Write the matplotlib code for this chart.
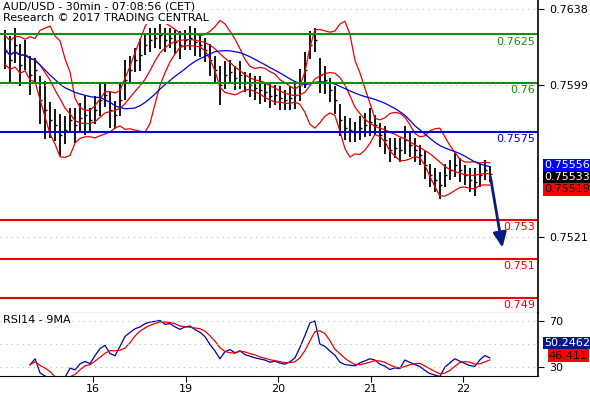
import numpy as np
import pandas as pd
import matplotlib
matplotlib.use("Agg")
import matplotlib.pyplot as plt

closes_pips = [7617.0,7611.8,7619.5,7609.3,7614.4,7604.1,7606.7,7591.3,7586.2,7581.1,
 7578.5,7573.4,7575.9,7581.1,7578.5,7582.1,7583.6,7581.1,7586.2,7591.3,
 7593.9,7586.2,7583.6,7591.3,7601.6,7606.7,7611.8,7614.4,7619.5,7622.1,
 7623.1,7624.7,7622.1,7623.1,7621.1,7619.5,7622.1,7623.1,7621.1,7619.5,
 7617.0,7611.8,7606.7,7599.0,7604.1,7605.7,7602.6,7604.1,7600.5,7599.0,
 7597.5,7596.4,7595.4,7593.4,7593.9,7592.3,7591.3,7592.3,7593.9,7599.0,
 7606.7,7619.5,7622.1,7604.1,7601.6,7596.4,7591.3,7581.1,7577.0,7575.9,
 7574.9,7577.0,7578.5,7580.0,7578.5,7573.4,7570.8,7565.7,7566.7,7565.7,
 7570.8,7568.2,7565.7,7563.1,7558.0,7552.8,7550.3,7547.7,7552.8,7555.4,
 7558.0,7555.4,7552.8,7550.3,7549.3,7552.8,7555.4,7553.3]
spans_pips = [20,25,18,22,15,20,12,25,30,18,16,22,14,12,18,15,20,12,14,16,
 12,18,14,16,20,14,12,16,10,12,10,14,12,10,12,14,10,12,14,12,
 12,16,14,20,14,12,12,14,10,12,12,14,10,12,10,12,10,12,14,16,
 18,14,12,18,14,12,14,16,12,12,10,12,12,14,10,12,14,12,10,12,
 14,12,12,10,14,12,12,14,12,10,12,12,10,12,14,12,10,8]
day_ticks = [16, 17, 18, 19, 20]
day_labels = ["16", "19", "20", "21", "22"]
levels = [0.7625, 0.76, 0.7575, 0.753, 0.751, 0.749]
level_labels = ["0.7625", "0.76", "0.7575", "0.753", "0.751", "0.749"]
level_colors = ["#109010", "#109010", "#0000e0", "#ee0000", "#ee0000", "#ee0000"]
price_ticks = [0.7638, 0.7599, 0.7521]
price_tick_labels = ["0.7638", "0.7599", "0.7521"]
rsi_ticks = [70, 30]

close = pd.Series(np.array(closes_pips) / 10000)
span = np.array(spans_pips) / 10000
high = close + span * 0.5
low = close - span * 0.5
n = len(close)
x = 15.05 + 0.054 * np.arange(n)

mid = close.rolling(8, min_periods=1).mean()
sd = close.rolling(8, min_periods=2).std().bfill()
up, dn = mid + 2 * sd, mid - 2 * sd
ma = close.rolling(20, min_periods=1).mean()

d = close.diff().fillna(0)
g = d.clip(lower=0).ewm(alpha=1/14).mean()
l = (-d.clip(upper=0)).ewm(alpha=1/14).mean()
rsi_all = 100 - 100 / (1 + g / l.replace(0, 1e-9))
start = 5
rsi = rsi_all.iloc[start:]
rsi_ma = rsi.rolling(4, min_periods=1).mean()

fig = plt.figure(figsize=(5.9, 4.0), dpi=100)
ax = fig.add_axes([0.0, 0.2175, 0.912, 0.7825])
ax2 = fig.add_axes([0.0, 0.06, 0.912, 0.1575])
xl = (14.995, 20.81)

for a in (ax, ax2):
    a.set_xlim(*xl)
    a.yaxis.tick_right()
    for s in ["top", "left"]:
        a.spines[s].set_visible(False)
    a.spines["right"].set_linewidth(1.2)
    a.tick_params(axis="y", direction="out", length=4, labelsize=8, pad=4)

ax.set_ylim(0.74822, 0.76426)
ax.vlines(x, low, high, color="black", lw=1.3)
ax.hlines(close, x, x + 0.02, color="black", lw=1)
ax.plot(x, up, color="#ee0000", lw=0.9)
ax.plot(x, dn, color="#ee0000", lw=0.9)
ax.plot(x, mid, color="#ee0000", lw=0.9)
ax.plot(x, ma, color="#0000dd", lw=0.9)
for lv, lb, c in zip(levels, level_labels, level_colors):
    ax.axhline(lv, color=c, lw=1.5)
    ax.text(xl[1] - 0.03, lv - 0.00012, lb, color=c, ha="right", va="top", fontsize=8)
for t in price_ticks:
    ax.axhline(t, color="#bbbbbb", lw=0.8, ls=(0, (1, 4)))
ax.set_yticks(price_ticks)
ax.set_yticklabels(price_tick_labels)
ax.set_xticks([])
ax.annotate("", xy=(20.43, 0.75143), xytext=(20.29, 0.75533),
            arrowprops=dict(arrowstyle="-|>,head_width=0.4,head_length=0.9", color="#0a1a80", lw=2))
ax.text(0.005, 0.995, "AUD/USD - 30min - 07:08:56 (CET)\nResearch © 2017 TRADING CENTRAL",
        transform=ax.transAxes, ha="left", va="top", fontsize=8, linespacing=1.15,
        bbox=dict(fc="white", ec="none", pad=1))
for yy, txt, fc, tc in [(0.75580, "0.75556", "#0000ff", "white"),
                        (0.75518, "0.75533", "black", "white"),
                        (0.75456, "0.75519", "#ff0000", "black")]:
    ax.text(1.012, yy, txt, transform=ax.get_yaxis_transform(), ha="left", va="center",
            fontsize=8, color=tc, bbox=dict(fc=fc, ec="none", pad=1.0), clip_on=False)

ax2.set_ylim(22.5, 76.9)
ax2.plot(x[start:], rsi, color="#0000aa", lw=0.9)
ax2.plot(x[start:], rsi_ma, color="#ee0000", lw=0.9)
for t in [70, 50.2462, 30]:
    ax2.axhline(t, color="#bbbbbb", lw=0.8, ls=(0, (1, 4)))
ax2.set_yticks(rsi_ticks)
ax2.set_xticks(day_ticks)
ax2.set_xticklabels(day_labels, fontsize=8)
ax2.tick_params(axis="x", length=4, direction="out", pad=2)
ax2.text(0.005, 0.97, "RSI14 - 9MA", transform=ax2.transAxes, ha="left", va="top", fontsize=8)
ax2.text(1.012, 51, "50.2462", transform=ax2.get_yaxis_transform(), ha="left", va="center",
         fontsize=8, color="white", bbox=dict(fc="#0a1a80", ec="none", pad=1.0), clip_on=False)
ax2.text(1.02, 40, "46.411", transform=ax2.get_yaxis_transform(), ha="left", va="center",
         fontsize=8, color="black", bbox=dict(fc="#ff0000", ec="none", pad=1.0), clip_on=False)

fig.savefig("out.png", dpi=100)
